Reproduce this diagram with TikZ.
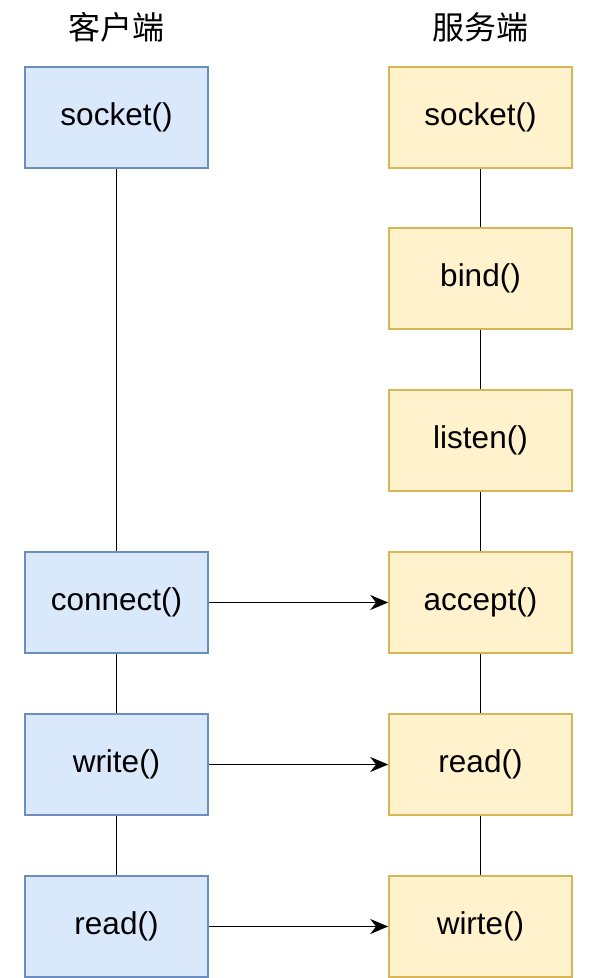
\documentclass[tikz,border=0pt]{standalone}
\usepackage{fontspec}
\setmainfont{Liberation Sans}
\newfontfamily\cjk{Noto Sans CJK SC}
\usetikzlibrary{arrows.meta}
\definecolor{clientfill}{HTML}{DAE8FC}
\definecolor{clientline}{HTML}{6C8EBF}
\definecolor{serverfill}{HTML}{FFF2CC}
\definecolor{serverline}{HTML}{D6B656}
\begin{document}
\begin{tikzpicture}[x=1pt,y=-1pt,
        callbox/.style={rectangle, minimum width=183pt, minimum height=101pt,
            inner sep=0pt, line width=1.6pt, font=\fontsize{31.5}{36}\selectfont},
        client/.style={callbox, draw=clientline, fill=clientfill},
        server/.style={callbox, draw=serverline, fill=serverfill},
        title/.style={font=\cjk\fontsize{32}{36}\selectfont},
        link/.style={line width=1.8pt},
        msg/.style={line width=1.8pt, -{Stealth[length=18pt, width=15pt]}}]
    \useasboundingbox (0,0) rectangle (591,978);
    \node[title] (tc) at (116.5,27) {客户端};
    \node[title] (ts) at (480.5,27) {服务端};
    % client side
    \node[client] (c1) at (116.5,117.5) {socket()};
    \node[client] (c2) at (116.5,602.5) {connect()};
    \node[client] (c3) at (116.5,764.5) {write()};
    \node[client] (c4) at (116.5,926.5) {read()};
    % server side
    \node[server] (s1) at (480.5,117.5) {socket()};
    \node[server] (s2) at (480.5,278.5) {bind()};
    \node[server] (s3) at (480.5,440.5) {listen()};
    \node[server] (s4) at (480.5,602.5) {accept()};
    \node[server] (s5) at (480.5,764.5) {read()};
    \node[server] (s6) at (480.5,926.5) {wirte()};
    \draw[link] (c1) -- (c2);
    \draw[link] (c2) -- (c3);
    \draw[link] (c3) -- (c4);
    \draw[link] (s1) -- (s2);
    \draw[link] (s2) -- (s3);
    \draw[link] (s3) -- (s4);
    \draw[link] (s4) -- (s5);
    \draw[link] (s5) -- (s6);
    \draw[msg] (c2) -- (s4);
    \draw[msg] (c3) -- (s5);
    \draw[msg] (c4) -- (s6);
\end{tikzpicture}
\end{document}
